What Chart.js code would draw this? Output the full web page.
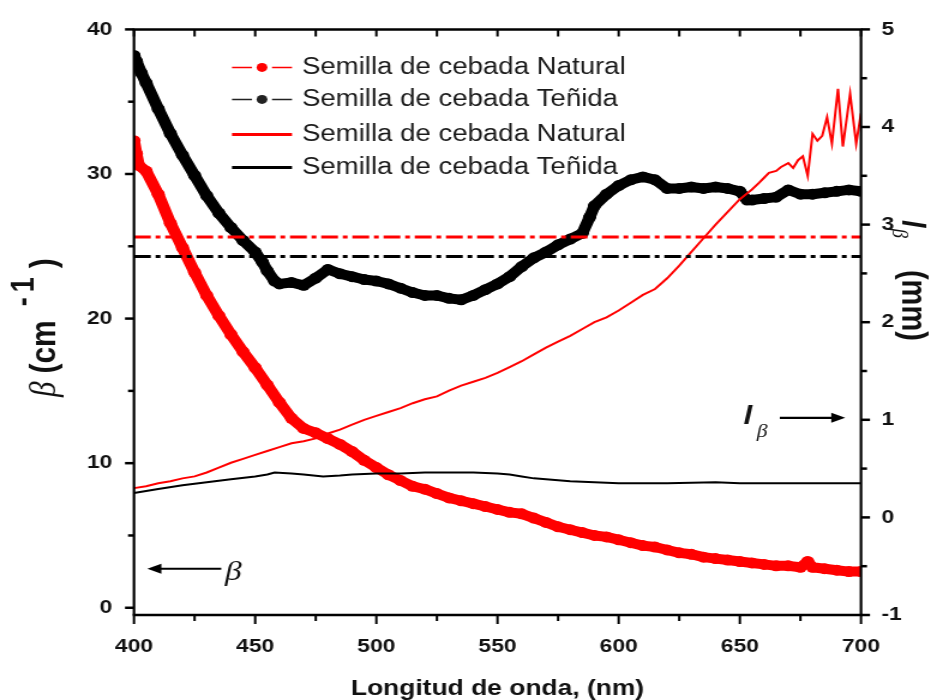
<!DOCTYPE html>
<html lang="es">
<head>
<meta charset="UTF-8">
<title>Semilla de cebada</title>
<script src="https://cdn.jsdelivr.net/npm/chart.js@4.4.2/dist/chart.umd.min.js"></script>
<style>
  body { margin: 0; background: #fff; }
</style>
</head>
<body>
<!-- drawn at 776px and stretched to 931px wide -->
<canvas id="grafica" width="776" height="700" style="width: 931px; height: 700px;"></canvas>
<script>
// beta (cm-1), semilla natural
const nmBetaNat = [400, 401, 402, 405, 410, 415, 420, 425, 430, 435, 440, 445, 450, 455, 460, 465, 470, 475, 480, 485, 490, 495, 500, 505, 510, 515, 520, 525, 530, 535, 540, 545, 550, 555, 560, 565, 570, 575, 580, 585, 590, 595, 600, 605, 610, 615, 620, 625, 630, 635, 640, 645, 650, 655, 660, 665, 670, 675, 678, 680, 685, 690, 695, 700];
const betaNat = [32.3, 31.4, 30.6, 30.2, 28.6, 26.6, 24.9, 23.2, 21.6, 20.2, 18.9, 17.7, 16.6, 15.4, 14.2, 13.1, 12.4, 12.1, 11.7, 11.3, 10.8, 10.2, 9.7, 9.2, 8.8, 8.4, 8.2, 7.9, 7.6, 7.4, 7.2, 7.0, 6.8, 6.6, 6.5, 6.2, 5.9, 5.6, 5.4, 5.2, 5.0, 4.9, 4.7, 4.5, 4.3, 4.2, 4.0, 3.8, 3.7, 3.5, 3.4, 3.3, 3.2, 3.1, 3.0, 2.9, 2.9, 2.8, 3.2, 2.8, 2.7, 2.6, 2.5, 2.5];

// beta (cm-1), semilla teñida
const nmBetaTen = [400, 401, 403, 405, 410, 415, 420, 425, 430, 435, 440, 445, 450, 453, 455, 458, 460, 465, 470, 475, 480, 485, 490, 495, 500, 505, 510, 515, 520, 525, 530, 535, 540, 545, 550, 555, 560, 565, 570, 575, 580, 585, 588, 590, 595, 600, 605, 610, 615, 620, 625, 630, 635, 640, 645, 650, 653, 655, 660, 665, 670, 675, 680, 685, 690, 695, 700];
const betaTen = [38.2, 37.8, 37.0, 36.3, 34.5, 32.8, 31.3, 29.9, 28.5, 27.3, 26.3, 25.4, 24.6, 23.9, 23.3, 22.6, 22.4, 22.5, 22.3, 22.8, 23.4, 23.1, 22.9, 22.7, 22.6, 22.4, 22.1, 21.8, 21.6, 21.6, 21.4, 21.3, 21.6, 22.0, 22.4, 22.9, 23.6, 24.2, 24.6, 25.1, 25.5, 25.9, 27.0, 27.8, 28.6, 29.2, 29.6, 29.8, 29.6, 29.0, 29.0, 29.1, 29.0, 29.1, 29.0, 28.8, 28.2, 28.2, 28.3, 28.4, 28.9, 28.6, 28.6, 28.7, 28.8, 28.9, 28.8];

// l_beta (mm), semilla natural
const nmLNat = [400, 405, 410, 415, 420, 425, 430, 435, 440, 445, 450, 455, 460, 465, 470, 475, 480, 485, 490, 495, 500, 505, 510, 515, 520, 525, 530, 535, 540, 545, 550, 555, 560, 565, 570, 575, 580, 585, 590, 595, 600, 605, 610, 615, 620, 625, 630, 635, 640, 645, 650, 653, 655, 658, 660, 662, 665, 667, 670, 672, 674, 676, 678, 680, 682, 684, 686, 688, 690.5, 692.5, 695.5, 698, 700];
const lNat = [0.30, 0.32, 0.35, 0.37, 0.40, 0.42, 0.46, 0.51, 0.56, 0.60, 0.64, 0.68, 0.72, 0.76, 0.78, 0.81, 0.86, 0.90, 0.95, 1.00, 1.04, 1.08, 1.12, 1.17, 1.21, 1.24, 1.30, 1.35, 1.39, 1.43, 1.48, 1.54, 1.60, 1.67, 1.74, 1.80, 1.86, 1.93, 2.00, 2.05, 2.12, 2.20, 2.28, 2.34, 2.45, 2.58, 2.72, 2.86, 3.00, 3.13, 3.26, 3.32, 3.36, 3.43, 3.48, 3.53, 3.55, 3.59, 3.63, 3.58, 3.66, 3.70, 3.50, 3.93, 3.86, 3.91, 4.10, 3.83, 4.39, 3.80, 4.34, 3.83, 4.14];

// l_beta (mm), semilla teñida
const nmLTen = [400, 410, 420, 430, 440, 450, 455, 458, 465, 470, 478, 485, 490, 500, 510, 520, 530, 540, 550, 555, 560, 565, 570, 580, 590, 600, 620, 640, 650, 660, 680, 700];
const lTen = [0.25, 0.29, 0.33, 0.36, 0.39, 0.42, 0.44, 0.46, 0.45, 0.44, 0.42, 0.43, 0.44, 0.45, 0.45, 0.46, 0.46, 0.46, 0.45, 0.44, 0.42, 0.40, 0.39, 0.37, 0.36, 0.35, 0.35, 0.36, 0.35, 0.35, 0.35, 0.35];

// promedios de beta (lineas punto-raya)
const promedioNat = 25.65;
const promedioTen = 24.3;

const xTicks = [400, 450, 500, 550, 600, 650, 700];
const xMinor = [425, 475, 525, 575, 625, 675];
const betaTicks = [0, 10, 20, 30, 40];
const betaMinor = [5, 15, 25, 35];
const lTicks = [-1, 0, 1, 2, 3, 4, 5];
const lMinor = [-0.5, 0.5, 1.5, 2.5, 3.5, 4.5];

const leyenda = ['Semilla de cebada Natural', 'Semilla de cebada Teñida', 'Semilla de cebada Natural', 'Semilla de cebada Teñida'];

const SX = 931 / 776;
const ROJO = '#ff0000';
const SANS = '"Liberation Sans", Arial, sans-serif';
const SERIF = '"Liberation Serif", "Times New Roman", serif';

const pts = (xs, ys) => xs.map((v, i) => ({ x: v, y: ys[i] }));

// writes pieces of text one after another along the current baseline
function escribir(ctx, piezas) {
    let cx = 0;
    piezas.forEach(p => {
        ctx.font = p.font;
        cx += p.gap || 0;
        ctx.fillText(p.text, cx, p.dy || 0);
        cx += ctx.measureText(p.text).width;
    });
}

const marco = {
    id: 'marco',
    afterDraw(chart) {
        const { ctx, chartArea: a, scales: { x, y, y2 } } = chart;
        ctx.save();
        ctx.strokeStyle = '#000';
        ctx.fillStyle = '#000';

        // frame
        ctx.lineWidth = 2.5;
        ctx.beginPath();
        ctx.moveTo(a.left - 1, a.top); ctx.lineTo(a.right + 1, a.top);
        ctx.moveTo(a.left - 1, a.bottom); ctx.lineTo(a.right + 1, a.bottom);
        ctx.stroke();
        ctx.lineWidth = 2.2;
        ctx.beginPath();
        ctx.moveTo(a.left, a.top); ctx.lineTo(a.left, a.bottom);
        ctx.moveTo(a.right, a.top); ctx.lineTo(a.right, a.bottom);
        ctx.stroke();

        // ticks: bottom outward, top inward
        ctx.lineWidth = 2;
        xTicks.concat(xMinor).forEach(v => {
            const px = x.getPixelForValue(v);
            const len = xTicks.includes(v) ? 9 : 6;
            ctx.beginPath();
            ctx.moveTo(px, a.bottom); ctx.lineTo(px, a.bottom + len);
            ctx.moveTo(px, a.top); ctx.lineTo(px, a.top + 7);
            ctx.stroke();
        });
        ctx.lineWidth = 2.5;
        betaTicks.concat(betaMinor).forEach(v => {
            const py = y.getPixelForValue(v);
            const len = (betaTicks.includes(v) ? 9 : 6) / SX;
            ctx.beginPath();
            ctx.moveTo(a.left, py); ctx.lineTo(a.left - len, py);
            ctx.stroke();
        });
        lTicks.concat(lMinor).forEach(v => {
            const py = y2.getPixelForValue(v);
            const len = (lTicks.includes(v) ? 9 : 6) / SX;
            ctx.beginPath();
            ctx.moveTo(a.right, py); ctx.lineTo(a.right + len, py);
            ctx.stroke();
        });

        ctx.fillStyle = '#111';
        ctx.textBaseline = 'alphabetic';

        // left title: beta (cm-1)
        ctx.save();
        ctx.translate(46, 397);
        ctx.rotate(-Math.PI / 2);
        escribir(ctx, [
            { text: 'β', font: 'italic 31px ' + SERIF },
            { text: '(cm', font: 'bold 30px ' + SANS, gap: 8 },
            { text: '-', font: 'bold 27px ' + SANS, gap: 14, dy: -18 },
            { text: '1', font: 'bold 27px ' + SANS, gap: 5, dy: -18 },
            { text: ')', font: 'bold 30px ' + SANS, gap: 9 }
        ]);
        ctx.restore();

        // right title: l_beta (mm)
        ctx.save();
        ctx.translate(752, 220);
        ctx.rotate(Math.PI / 2);
        escribir(ctx, [
            { text: 'l', font: 'italic bold 27px ' + SANS },
            { text: 'β', font: 'italic 19px ' + SERIF, gap: 1, dy: 8 },
            { text: '(mm)', font: 'bold 29px ' + SANS, gap: 32 }
        ]);
        ctx.restore();

        // arrows pointing to each axis
        const flecha = (x1, x2, py) => {
            const dir = Math.sign(x2 - x1);
            const head = 14 / SX;
            ctx.lineWidth = 2.2;
            ctx.beginPath();
            ctx.moveTo(x1, py); ctx.lineTo(x2 - dir * head * 0.8, py);
            ctx.stroke();
            ctx.beginPath();
            ctx.moveTo(x2, py);
            ctx.lineTo(x2 - dir * head, py - 5);
            ctx.lineTo(x2 - dir * head, py + 5);
            ctx.closePath();
            ctx.fill();
        };
        ctx.fillStyle = '#000';
        flecha(x.getPixelForValue(436), x.getPixelForValue(405.5), y.getPixelForValue(2.7));
        flecha(x.getPixelForValue(666.5), x.getPixelForValue(693.5), y2.getPixelForValue(1.02));

        ctx.fillStyle = '#111';
        ctx.font = 'italic 28px ' + SERIF;
        ctx.fillText('β', x.getPixelForValue(437.5), y.getPixelForValue(1.9));
        ctx.font = 'italic bold 26px ' + SANS;
        ctx.fillText('l', x.getPixelForValue(651.5), y2.getPixelForValue(0.96));
        ctx.font = 'italic 18px ' + SERIF;
        ctx.fillText('β', x.getPixelForValue(657), y2.getPixelForValue(0.82));

        // legend
        const muestras = [
            { color: ROJO, punto: true },
            { color: '#222', punto: true },
            { color: ROJO, punto: false },
            { color: '#000', punto: false }
        ];
        const filas = [38, 70, 105, 138];
        const x0 = a.left + 98 / SX;
        const x1 = a.left + 158 / SX;
        muestras.forEach((m, i) => {
            const py = a.top + filas[i];
            ctx.strokeStyle = m.color;
            ctx.fillStyle = m.color;
            if (m.punto) {
                const mid = (x0 + x1) / 2;
                ctx.lineWidth = 1.5;
                ctx.beginPath();
                ctx.moveTo(x0, py); ctx.lineTo(mid - 10 / SX, py);
                ctx.moveTo(mid + 10 / SX, py); ctx.lineTo(x1, py);
                ctx.stroke();
                ctx.beginPath();
                ctx.arc(mid, py, 4.5, 0, Math.PI * 2);
                ctx.fill();
            } else {
                ctx.lineWidth = 3;
                ctx.beginPath();
                ctx.moveTo(x0, py); ctx.lineTo(x1, py);
                ctx.stroke();
            }
            ctx.fillStyle = '#1a1a1a';
            ctx.font = '23px ' + SANS;
            ctx.textBaseline = 'middle';
            ctx.fillText(leyenda[i], a.left + 168 / SX, py);
        });

        ctx.restore();
    }
};

const fuenteTicks = { family: SANS, size: 19, weight: 'bold' };

new Chart(document.getElementById('grafica'), {
    type: 'scatter',
    data: {
        datasets: [
            {
                label: leyenda[0],
                data: pts(nmBetaNat, betaNat),
                yAxisID: 'y',
                showLine: true,
                borderColor: ROJO,
                backgroundColor: ROJO,
                borderWidth: 10,
                pointRadius: 5.5,
                pointBorderWidth: 0,
                borderJoinStyle: 'round',
                borderCapStyle: 'round',
                order: 5
            },
            {
                label: leyenda[1],
                data: pts(nmBetaTen, betaTen),
                yAxisID: 'y',
                showLine: true,
                borderColor: '#000',
                backgroundColor: '#000',
                borderWidth: 10,
                pointRadius: 5.5,
                pointBorderWidth: 0,
                borderJoinStyle: 'round',
                borderCapStyle: 'round',
                order: 5
            },
            {
                label: leyenda[2],
                data: pts(nmLNat, lNat),
                yAxisID: 'y2',
                showLine: true,
                borderColor: ROJO,
                borderWidth: 2,
                pointRadius: 0,
                order: 3
            },
            {
                label: leyenda[3],
                data: pts(nmLTen, lTen),
                yAxisID: 'y2',
                showLine: true,
                borderColor: '#000',
                borderWidth: 2,
                pointRadius: 0,
                order: 3
            },
            {
                label: 'Promedio natural',
                data: [{ x: 400, y: promedioNat }, { x: 700, y: promedioNat }],
                yAxisID: 'y',
                showLine: true,
                borderColor: ROJO,
                borderWidth: 3,
                borderDash: [14, 4, 4, 4],
                pointRadius: 0,
                order: 1
            },
            {
                label: 'Promedio teñida',
                data: [{ x: 400, y: promedioTen }, { x: 700, y: promedioTen }],
                yAxisID: 'y',
                showLine: true,
                borderColor: '#000',
                borderWidth: 3,
                borderDash: [14, 4, 4, 4],
                pointRadius: 0,
                order: 1
            }
        ]
    },
    options: {
        responsive: false,
        animation: false,
        events: [],
        layout: { padding: { top: 25, left: 0, right: 0, bottom: 0 } },
        plugins: { legend: { display: false }, tooltip: { enabled: false } },
        scales: {
            x: {
                type: 'linear',
                min: 400,
                max: 700,
                afterBuildTicks: s => { s.ticks = xTicks.map(v => ({ value: v })); },
                afterFit: s => { s.height = 85; },
                grid: { display: false, drawTicks: false },
                border: { display: false },
                ticks: { padding: 20, color: '#111', font: fuenteTicks, maxRotation: 0 },
                title: {
                    display: true,
                    text: 'Longitud de onda, (nm)',
                    color: '#111',
                    font: { family: SANS, size: 22, weight: 'bold', lineHeight: 1 },
                    padding: { top: 0, bottom: 0 }
                }
            },
            y: {
                position: 'left',
                min: -0.5,
                max: 40,
                afterBuildTicks: s => { s.ticks = betaTicks.map(v => ({ value: v })); },
                afterFit: s => { s.width = 134 / SX; },
                grid: { display: false, drawTicks: false },
                border: { display: false },
                ticks: { padding: 18, color: '#111', font: fuenteTicks }
            },
            y2: {
                position: 'right',
                min: -1,
                max: 5,
                afterBuildTicks: s => { s.ticks = lTicks.map(v => ({ value: v })); },
                afterFit: s => { s.width = (931 - 861) / SX; },
                grid: { display: false, drawTicks: false },
                border: { display: false },
                ticks: { padding: 17, color: '#111', font: fuenteTicks }
            }
        }
    },
    plugins: [marco]
});
</script>
</body>
</html>
